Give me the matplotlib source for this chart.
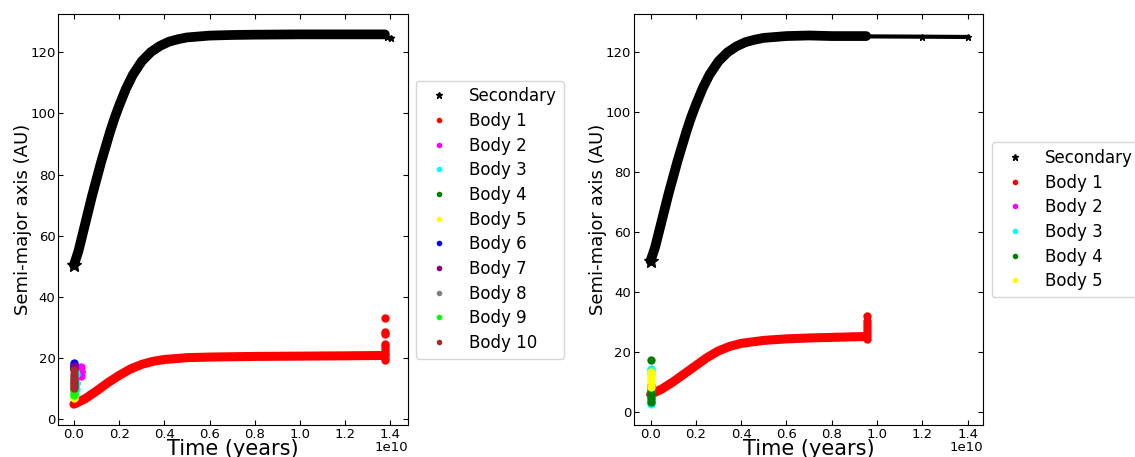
import numpy as np
import matplotlib
matplotlib.use("Agg")
import matplotlib.pyplot as plt
from matplotlib.lines import Line2D

# ---- left panel (10 bodies), time in units of 1e10 yr ----
L_SEC_T = [0.0, 0.02, 0.04, 0.06, 0.08, 0.10, 0.12, 0.14, 0.16, 0.18, 0.20, 0.23, 0.26,
           0.30, 0.34, 0.38, 0.42, 0.46, 0.50, 0.60, 0.70, 0.80, 1.00, 1.20, 1.376]
L_SEC_A = [50.5, 55.0, 61.0, 67.0, 73.0, 78.5, 84.0, 89.0, 94.0, 98.5, 102.5, 108.0, 112.5,
           117.0, 120.0, 122.0, 123.4, 124.2, 124.8, 125.4, 125.6, 125.7, 125.8, 125.8, 125.8]
L_SEC_TAIL_T = [1.376, 1.385, 1.405]
L_SEC_TAIL_A = [125.6, 124.8, 124.5]

L_B1_T = [0.0, 0.05, 0.10, 0.15, 0.20, 0.25, 0.30, 0.35, 0.40, 0.50, 0.60, 0.80, 1.00, 1.20, 1.36, 1.376]
L_B1_A = [5.0, 6.8, 9.3, 12.0, 14.4, 16.5, 18.0, 19.0, 19.6, 20.2, 20.4, 20.6, 20.7, 20.8, 20.9, 21.0]
L_B1_SPIKE_T = [1.378, 1.378, 1.378, 1.378, 1.378, 1.378, 1.378, 1.378, 1.378, 1.378]
L_B1_SPIKE_A = [19.3, 20.0, 21.0, 22.0, 23.0, 24.0, 24.8, 28.0, 28.6, 33.1]

L_SMALL = {
    "Body 2": ([0.0, 0.01, 0.02, 0.025, 0.03, 0.03, 0.03, 0.03], [10.0, 12.0, 15.0, 16.5, 17.0, 15.5, 14.2, 16.0]),
    "Body 3": ([0.0, 0.005, 0.01, 0.01, 0.01], [14.0, 16.0, 15.0, 12.0, 10.0]),
    "Body 4": ([0.0, 0.0], [16.8, 12.0]),
    "Body 5": ([0.0, 0.0], [6.9, 7.8]),
    "Body 6": ([0.0, 0.0, 0.0], [18.3, 17.8, 17.3]),
    "Body 7": ([0.0, 0.0], [17.5, 16.5]),
    "Body 8": ([0.0, 0.0], [13.0, 11.0]),
    "Body 9": ([0.0, 0.0, 0.0], [9.5, 8.8, 8.0]),
    "Body 10": ([0.0] * 7, [16.3, 15.0, 14.0, 13.0, 12.0, 11.0, 10.3]),
}

# ---- right panel (5 bodies) ----
R_SEC_T = L_SEC_T[:-4] + [0.80, 0.90, 0.952]
R_SEC_A = L_SEC_A[:-4] + [125.4, 125.4, 125.4]
R_SEC_TAIL_T = [0.952, 1.20, 1.40]
R_SEC_TAIL_A = [125.3, 125.2, 125.1]

R_B1_T = [0.0, 0.05, 0.10, 0.15, 0.20, 0.25, 0.30, 0.35, 0.40, 0.50, 0.60, 0.70, 0.80, 0.90, 0.952]
R_B1_A = [6.0, 7.8, 10.2, 12.9, 15.6, 18.3, 20.5, 22.0, 23.0, 24.0, 24.5, 24.8, 25.0, 25.2, 25.3]
R_B1_SPIKE_T = [0.955] * 8
R_B1_SPIKE_A = [24.5, 25.5, 26.5, 27.5, 28.5, 29.5, 30.5, 32.0]

R_SMALL = {
    "Body 2": ([0.0], [9.0]),
    "Body 3": ([0.0] * 7, [14.6, 14.0, 13.0, 7.0, 5.0, 3.5, 2.8]),
    "Body 4": ([0.0] * 7, [17.4, 8.3, 7.5, 6.5, 5.5, 4.5, 3.6]),
    "Body 5": ([0.0] * 6, [13.4, 12.5, 11.5, 10.5, 9.5, 8.6]),
}

COLORS = {"Body 1": "red", "Body 2": "magenta", "Body 3": "cyan", "Body 4": "green",
          "Body 5": "yellow", "Body 6": "blue", "Body 7": "purple", "Body 8": "gray",
          "Body 9": "lime", "Body 10": "brown"}


def draw_panel(ax, sec, sec_tail, b1, b1_spike, small, xlim, ylim):
    s = 1e10
    ax.plot(np.array(sec[0]) * s, sec[1], color="k", lw=7, solid_capstyle="round",
            solid_joinstyle="round", zorder=2)
    ax.plot([sec[0][0] * s], [sec[1][0]], color="k", lw=0, marker="*", ms=10, zorder=2)
    ax.plot(np.array(sec_tail[0]) * s, sec_tail[1], color="k", lw=3,
            marker="*", ms=5, zorder=2)
    ax.plot(np.array(b1[0]) * s, b1[1], color="red", lw=6.5, solid_capstyle="round",
            solid_joinstyle="round", zorder=2)
    ax.plot(np.array(b1_spike[0]) * s, b1_spike[1], color="red", lw=0,
            marker="o", ms=5, zorder=2)
    for name, (t, a) in small.items():
        ax.plot(np.array(t) * s, a, color=COLORS[name], lw=0, marker="o", ms=5, zorder=3)

    ax.set_xlim(xlim[0] * s, xlim[1] * s)
    ax.set_ylim(*ylim)
    ax.set_yticks([0, 20, 40, 60, 80, 100, 120])
    ax.set_xticks(np.arange(0, 1.41, 0.2) * s)
    ax.tick_params(direction="in", top=True, right=True, labelsize=9.5, pad=2)
    ax.xaxis.get_offset_text().set_visible(False)
    ax.text(1.0, -0.054, "1e10", transform=ax.transAxes, ha="right", va="center", fontsize=9.5)
    ax.set_xlabel("Time (years)", fontsize=15, labelpad=-1.5)
    ax.set_ylabel("Semi-major axis (AU)", fontsize=13, labelpad=-1)

    names = ["Body 1"] + list(small.keys())
    handles = [Line2D([], [], color="k", marker="*", lw=0, ms=5, label="Secondary")]
    handles += [Line2D([], [], color=COLORS[n], marker="o", lw=0, ms=3, label=n) for n in names]
    ax.legend(handles=handles, loc="center left", bbox_to_anchor=(1.0, 0.5), fontsize=12,
              labelspacing=0.4)


fig = plt.figure(figsize=(11.35, 4.57), dpi=100)
ax1 = fig.add_axes([0.0514, 0.070, 0.3078, 0.899])
ax2 = fig.add_axes([0.5586, 0.070, 0.3077, 0.899])

draw_panel(ax1, (L_SEC_T, L_SEC_A), (L_SEC_TAIL_T, L_SEC_TAIL_A), (L_B1_T, L_B1_A),
           (L_B1_SPIKE_T, L_B1_SPIKE_A), L_SMALL, (-0.069, 1.477), (-1.8, 132.4))
draw_panel(ax2, (R_SEC_T, R_SEC_A), (R_SEC_TAIL_T, R_SEC_TAIL_A), (R_B1_T, R_B1_A),
           (R_B1_SPIKE_T, R_B1_SPIKE_A), R_SMALL, (-0.073, 1.469), (-4.2, 132.7))

fig.savefig("out.png", dpi=100)
